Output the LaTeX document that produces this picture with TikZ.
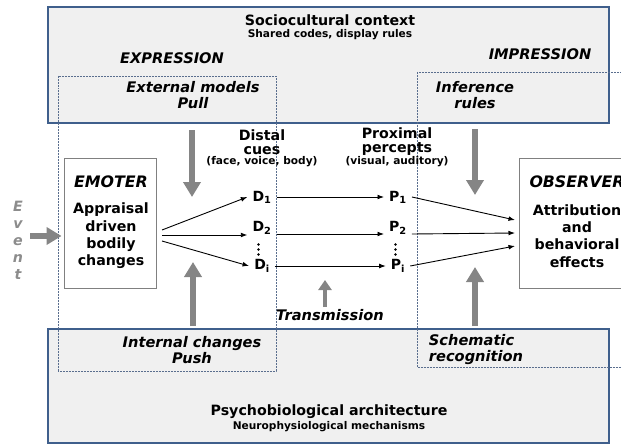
\documentclass[tikz,border=0pt]{standalone}
\usepackage{fontspec}
\setmainfont{DejaVu Sans}
\usetikzlibrary{arrows.meta}
\definecolor{panelfill}{HTML}{F0F0F0}
\definecolor{panelline}{HTML}{3F5F8C}
\definecolor{zoneline}{HTML}{5A6E8E}
\definecolor{blockgray}{HTML}{858585}
\definecolor{eventgray}{HTML}{8C8C8C}
\definecolor{agentline}{HTML}{808080}

\tikzset{
  panel/.style={draw=panelline, line width=1.3pt, fill=panelfill},
  zone/.style={draw=zoneline, line width=0.7pt, dash pattern=on 0.7pt off 0.8pt},
  agent/.style={draw=agentline, line width=0.9pt, fill=white, minimum width=92pt,
    minimum height=130pt, inner sep=0pt},
  bigtxt/.style={font=\fontsize{14.2}{17.3}\selectfont\bfseries, align=center, inner sep=0pt},
  bigit/.style={font=\fontsize{14.6}{16}\selectfont\bfseries\itshape, align=center, inner sep=0pt},
  agentname/.style={font=\fontsize{15.8}{17}\selectfont\bfseries\itshape, inner sep=0pt},
  smalltxt/.style={font=\fontsize{10.6}{12}\selectfont\bfseries, inner sep=0pt},
  cue/.style={font=\fontsize{14}{16}\selectfont\bfseries, inner xsep=5pt, inner ysep=0pt},
  flow/.style={line width=0.9pt, -{Latex[length=6.5pt,width=4.8pt]}},
  force/.style={blockgray, line width=5.5pt, -{Triangle[length=15pt,width=17pt]}},
  minorforce/.style={blockgray, line width=4pt, -{Triangle[length=10pt,width=13pt]}},
}

\begin{document}
\begin{tikzpicture}[x=1pt,y=-1pt]
\useasboundingbox (0,0) rectangle (621,444);
\clip (0,0) rectangle (621,444);

% social and biological frames
\draw[panel] (48,7) rectangle (609,123);
\draw[panel] (48,329) rectangle (609,443);

% expression and impression zones
\draw[zone] (58,76) rectangle (276,371);
\draw[zone] (417,72) rectangle (640,367);

% frame titles
\node[bigtxt] (soc) at (330,20) {Sociocultural context};
\node[smalltxt] (socsub) at (330,35) {Shared codes, display rules};
\node[bigtxt] (bio) at (329,412) {Psychobiological architecture};
\node[smalltxt] (biosub) at (329,427) {Neurophysiological mechanisms};

\node[bigit] (expr) at (172,58) {EXPRESSION};
\node[bigit] (impr) at (540,54) {IMPRESSION};

\node[bigit] (extm) at (193,95) {External models\\Pull};
\node[bigit] (infr) at (475,95) {Inference\\rules};
\node[bigit] (intc) at (192,350) {Internal changes\\Push};
\node[bigit, align=left] (schm) at (476,350) {Schematic\\recognition};

% column headings
\node[font=\fontsize{14.2}{14}\selectfont\bfseries, align=center, inner sep=0pt] (distal) at (262,142) {Distal\\cues};
\node[smalltxt] (distalsub) at (262,162) {(face, voice, body)};
\node[font=\fontsize{14.2}{14}\selectfont\bfseries, align=center, inner sep=0pt] (prox) at (397,142) {Proximal\\percepts};
\node[smalltxt] (proxsub) at (397,162) {(visual, auditory)};

% emoter and observer
\node[agent] (emo) at (110,223) {};
\node[agentname] (emoname) at (111,182) {EMOTER};
\node[bigtxt] (emotxt) at (111,236) {Appraisal\\driven\\bodily\\changes};

\node[agent, minimum width=116pt] (obs) at (577,223) {};
\node[agentname] (obsname) at (577,182) {OBSERVER};
\node[bigtxt] (obstxt) at (577,236) {Attribution\\and\\behavioral\\effects};

% event
\node[font=\fontsize{14.2}{17}\selectfont\bfseries\itshape, text=eventgray, align=center, inner sep=0pt]
  (event) at (18,240) {E\\v\\e\\n\\t};

% cues and percepts
\node[cue] (d1) at (262,197) {D\textsubscript{1}};
\node[cue] (d2) at (262,228) {D\textsubscript{2}};
\node[cue] (di) at (262,266) {D\textsubscript{i}};
\node[cue] (p1) at (398,197) {P\textsubscript{1}};
\node[cue] (p2) at (398,228) {P\textsubscript{2}};
\node[cue] (pi) at (398,266) {P\textsubscript{i}};

% vertical ellipses between the second and last rows
\foreach \yy in {244.5,249.5,254.5} {
  \fill (258.5,\yy) circle (1.35pt);
  \fill (395.5,\yy) circle (1.35pt);
}

\node[bigit] (trans) at (330,315) {Transmission};

% connector end points
\coordinate (f1) at (162,230);
\coordinate (f2) at (162,235);
\coordinate (f3) at (162,241);
\coordinate (o1) at (515,220);
\coordinate (o2) at (515,233);
\coordinate (o3) at (515,246);
\coordinate (evs) at (30,236);
\coordinate (pulls) at (192,130);
\coordinate (pullt) at (192,197);
\coordinate (pushs) at (193,326);
\coordinate (pusht) at (193,262);
\coordinate (infs) at (475,129);
\coordinate (inft) at (475,195);
\coordinate (schs) at (475,326);
\coordinate (scht) at (475,267);
\coordinate (trs) at (325,307);
\coordinate (trt) at (325,280);

% encoding fan
\draw[flow] (f1) -- (d1.west);
\draw[flow] (f2) -- ([yshift=-7pt]d2.west);
\draw[flow] (f3) -- (di.west);

% transmission
\draw[flow] (d1.east) -- (p1.west);
\draw[flow] ([yshift=-6pt]d2.east) -- ([yshift=-6pt]p2.west);
\draw[flow] (di.east) -- (pi.west);

% decoding fan
\draw[flow] (p1.east) -- (o1);
\draw[flow] ([yshift=-6pt]p2.east) -- (o2);
\draw[flow] (pi.east) -- (o3);

% push and pull effects
\draw[force] (evs) -- ([yshift=-13pt,xshift=-2pt]emo.west);
\draw[force] (pulls) -- (pullt);
\draw[force] (pushs) -- (pusht);
\draw[force] (infs) -- (inft);
\draw[force] (schs) -- (scht);
\draw[minorforce] (trs) -- (trt);
\end{tikzpicture}
\end{document}
